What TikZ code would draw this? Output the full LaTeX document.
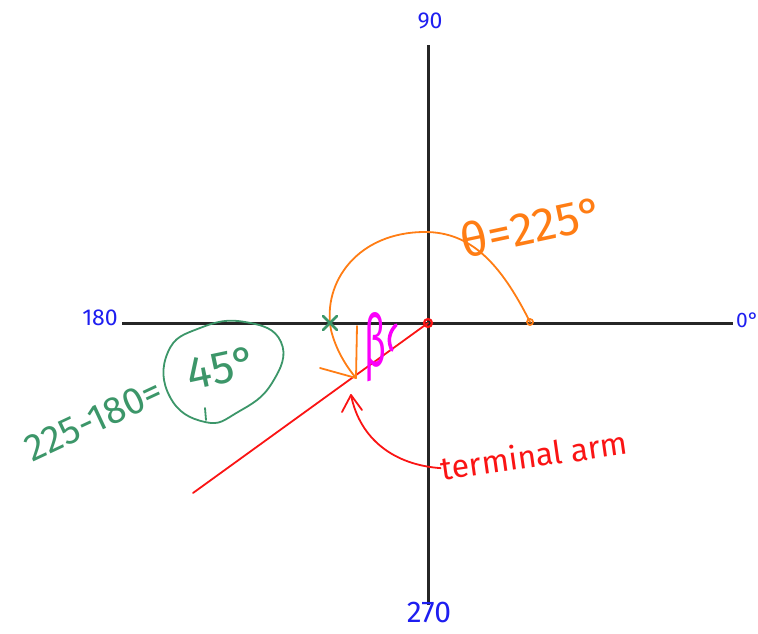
\documentclass[tikz,border=0pt]{standalone}
\usepackage{fontspec}
\setmainfont{Fira Sans}
\usetikzlibrary{calc}
\definecolor{pgreen}{RGB}{60,150,105}
\definecolor{porange}{RGB}{255,125,20}
\definecolor{pblue}{RGB}{30,30,240}
\definecolor{pred}{RGB}{250,20,20}
\definecolor{pmag}{RGB}{250,0,250}
\tikzset{
  axisline/.style={line width=3pt, black!85},
  axlbl/.style={text=pblue, inner sep=0pt, font=\fontsize{23}{23}\selectfont},
  ink/.style={line width=1.8pt, line cap=round, line join=round},
}
\begin{document}
\begin{tikzpicture}[x=1pt,y=-1pt]
\useasboundingbox (0,0) rectangle (758,633);
% axes
\coordinate (O) at (428,323);
\coordinate (N) at (428,45);
\coordinate (S) at (428,605);
\coordinate (W) at (122,323);
\coordinate (E) at (733,323);
\draw[axisline] (W) -- (E);
\draw[axisline] (N) -- (S);
\node[axlbl] (l90) at (430,21) {90};
\node[axlbl, anchor=west, font=\fontsize{21}{21}\selectfont] (l0) at (736,320) {0°};
\node[axlbl] (l180) at (100,318) {180};
\node[axlbl, font=\fontsize{30}{30}\selectfont] (l270) at (429,612) {270};
% terminal arm
\coordinate (T) at (193,493);
\draw[ink, pred] (O) -- (T);
\draw[pred, line width=2.2pt] (O) circle (4);
% orange angle arc
\coordinate (Ostart) at (530,322);
\coordinate (Otop) at (425,232);
\coordinate (Otip) at (356,378);
\coordinate (ObarbA) at (320,368);
\coordinate (ObarbB) at (357,326);
\draw[porange, line width=1.8pt] (Ostart) circle (3);
\draw[ink, porange] (Ostart) .. controls (500,262) and (470,232) .. (Otop)
  .. controls (358,232) and (322,282) .. (331,330)
  .. controls (336,350) and (346,366) .. (Otip);
\draw[ink, porange] (ObarbA) -- (Otip) -- (ObarbB);
\node[text=porange, rotate=12, inner sep=0pt, font=\fontsize{47}{47}\selectfont] (theta) at (532,226) {θ=225°};
% green mark on negative axis
\coordinate (X) at (330,323);
\draw[pgreen, line width=2.6pt, line cap=round] ($(X)+(-7,-7)$) -- ($(X)+(7,7)$) ($(X)+(7,-7)$) -- ($(X)+(-7,7)$);
% green computation
\node[text=pgreen, rotate=25, inner sep=0pt, font=\fontsize{38}{38}\selectfont] (calc) at (94,420) {225-180=};
\node[text=pgreen, rotate=12, inner sep=0pt, font=\fontsize{46}{46}\selectfont] (res) at (222,368) {45°};
\draw[ink, pgreen] plot[smooth cycle, tension=0.8] coordinates {(245,322) (281,342) (272,383) (238,412) (205,422) (170,397) (168,352) (200,328)};
\draw[ink, pgreen] (205,408) -- (206,420);
% beta
\node[text=pmag, inner sep=0pt, xscale=0.5, font=\fontsize{72}{72}\selectfont] (beta) at (375,347) {β};
\draw[pmag, line width=3.5pt, line cap=round] (396,325) .. controls (388,333) and (388,343) .. (392,350);
% terminal arm label and pointer
\node[text=pred, rotate=8, inner sep=0pt, font=\fontsize{32}{32}\selectfont] (tlabel) at (534,455) {terminal arm};
\coordinate (Rtip) at (351,395);
\draw[ink, pred] (tlabel.west) .. controls (395,465) and (360,440) .. (Rtip);
\draw[ink, pred] (342,412) -- (Rtip) -- (362,410);
\end{tikzpicture}
\end{document}
